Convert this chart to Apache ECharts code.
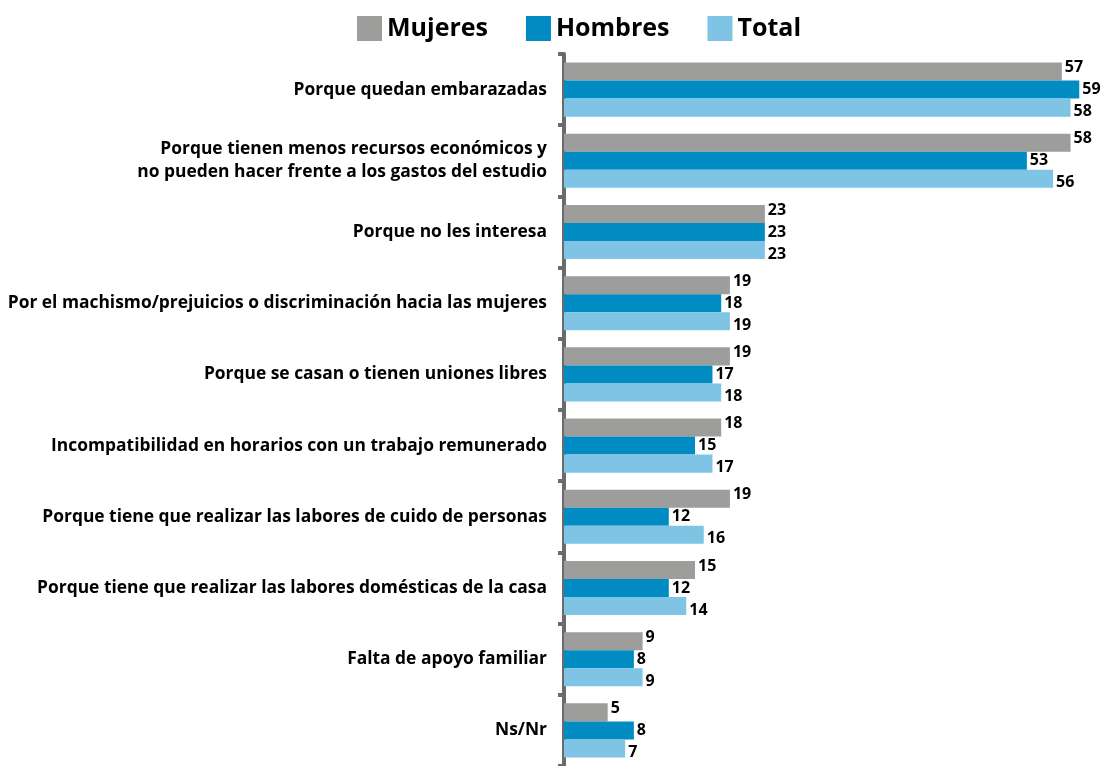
<!DOCTYPE html>
<html>
<head>
<meta charset="utf-8">
<script src="https://cdn.jsdelivr.net/npm/echarts@6/dist/echarts.min.js"></script>
<style>
  html, body { margin: 0; padding: 0; background: #fff; }
  #container { width: 1105px; height: 766px; }
</style>
</head>
<body>
<div id="container"></div>
<script>
var categories = [
  'Porque quedan embarazadas',
  'Porque tienen menos recursos económicos y\nno pueden hacer frente a los gastos del estudio',
  'Porque no les interesa',
  'Por el machismo/prejuicios o discriminación hacia las mujeres',
  'Porque se casan o tienen uniones libres',
  'Incompatibilidad en horarios con un trabajo remunerado',
  'Porque tiene que realizar las labores de cuido de personas',
  'Porque tiene que realizar las labores domésticas de la casa',
  'Falta de apoyo familiar',
  'Ns/Nr'
];
var mujeres = [57, 58, 23, 19, 19, 18, 19, 15, 9, 5];
var hombres = [59, 53, 23, 18, 17, 15, 12, 12, 8, 8];
var total = [58, 56, 23, 19, 18, 17, 16, 14, 9, 7];

var fontName = '"Open Sans", "DejaVu Sans", sans-serif';

function makeSeries(name, data, color, dy) {
  return {
    name: name,
    type: 'bar',
    data: data,
    barGap: '0%',
    barCategoryGap: '24%',
    itemStyle: { color: color },
    label: {
      show: true,
      position: 'right',
      offset: [0, dy],
      distance: 3,
      color: '#000',
      fontFamily: fontName,
      fontWeight: 'bold',
      fontSize: 16
    }
  };
}

var myChart = echarts.init(document.getElementById('container'));
var option = {
  animation: false,
  legend: {
    top: 11,
    left: 352,
    itemWidth: 25,
    itemHeight: 25,
    itemGap: 38,
    icon: 'rect',
    textStyle: {
      fontFamily: fontName,
      fontWeight: 'bold',
      fontSize: 25,
      color: '#000'
    },
    data: ['Mujeres', 'Hombres', 'Total']
  },
  grid: {
    left: 564,
    right: 17,
    top: 54,
    bottom: 0
  },
  xAxis: {
    type: 'value',
    min: 0,
    max: 60,
    show: false
  },
  yAxis: {
    type: 'category',
    inverse: true,
    data: categories,
    axisLine: { lineStyle: { color: '#6b6b6b', width: 4 } },
    axisTick: { show: true, length: 6, lineStyle: { color: '#6b6b6b', width: 4 } },
    axisLabel: {
      margin: 17,
      color: '#000',
      fontFamily: fontName,
      fontWeight: 'bold',
      fontSize: 17.4,
      lineHeight: 23,
      align: 'right'
    }
  },
  series: [
    makeSeries('Mujeres', mujeres, '#9d9d9c', -4),
    makeSeries('Hombres', hombres, '#008cc3', 0),
    makeSeries('Total', total, '#7fc4e4', 4)
  ]
};
myChart.setOption(option);
</script>
</body>
</html>
